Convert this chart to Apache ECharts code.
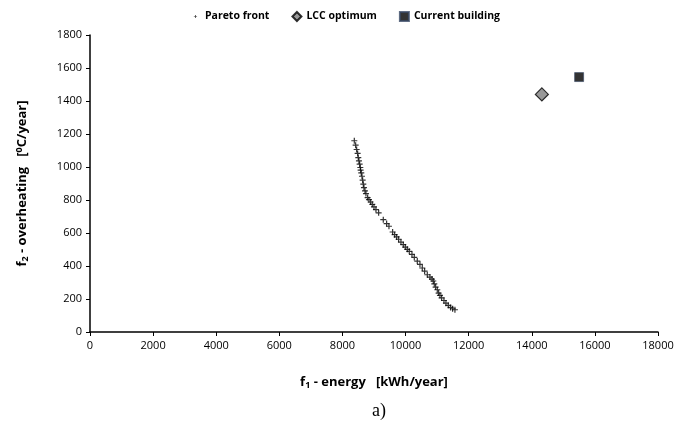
<!DOCTYPE html>
<html>
<head>
<meta charset="utf-8">
<script src="https://cdn.jsdelivr.net/npm/echarts@6/dist/echarts.min.js"></script>
<style>
  html, body { margin: 0; padding: 0; background: #fff; }
  #chart { width: 691px; height: 434px; }
</style>
</head>
<body>
<div id="chart"></div>
<script>
// Pareto front, f1 energy [kWh/year] vs f2 overheating
const paretoEnergy = [
    8376, 8418, 8450, 8481, 8502, 8523, 8545, 8566, 8576, 8597,
    8619, 8640, 8661, 8682, 8714, 8745, 8798, 8840, 8893, 8946,
    8999, 9062, 9147, 9294, 9400, 9474, 9590, 9654, 9717, 9780,
    9854, 9928, 9992, 10055, 10118, 10203, 10277, 10372, 10456, 10530,
    10604, 10689, 10773, 10837, 10879, 10911, 10953, 11006, 11048, 11090,
    11143, 11217, 11280, 11354, 11428, 11491, 11565
];
const paretoOverheating = [
    1159, 1132, 1106, 1082, 1057, 1037, 1017, 997, 981, 964,
    944, 920, 896, 875, 855, 839, 815, 802, 788, 774,
    758, 742, 722, 681, 657, 641, 606, 590, 576, 562,
    545, 529, 515, 501, 489, 471, 452, 430, 410, 388,
    369, 347, 333, 321, 309, 292, 272, 256, 236, 222,
    207, 191, 175, 161, 149, 141, 135
];
const lccOptimum = [14320, 1440];
const currentBuilding = [15500, 1545];

const xTicks = { min: 0, max: 18000, interval: 2000 };
const yTicks = { min: 0, max: 1800, interval: 200 };

const paretoData = paretoEnergy.map((e, i) => [e, paretoOverheating[i]]);

const plusPath = 'path://M2,0H3V2H5V3H3V5H2V3H0V2H2Z';
// same plus, drawn smaller inside an empty frame for the legend
const plusLegend = 'path://M0,0M10,10M4.6,3.2H5.4V4.6H6.8V5.4H5.4V6.8H4.6V5.4H3.2V4.6H4.6Z';
const labelFont = 'Open Sans';

const myChart = echarts.init(document.getElementById('chart'));

let option = {
    animation: false,
    textStyle: { fontFamily: labelFont },
    legend: {
        top: 6,
        left: 'center',
        itemWidth: 9,
        itemHeight: 9,
        itemGap: 22,
        textStyle: { fontSize: 10.5, fontWeight: 'bold', color: '#000', fontFamily: labelFont },
        data: [
            { name: 'Pareto front', icon: plusLegend, itemStyle: { color: '#000' } },
            { name: 'LCC optimum', icon: 'diamond' },
            { name: 'Current building', icon: 'rect', itemStyle: { color: '#000' } }
        ]
    },
    title: {
        text: 'a)',
        left: 374,
        top: 397,
        textAlign: 'center',
        textStyle: { fontFamily: 'Liberation Serif', fontSize: 18, fontWeight: 'normal', color: '#000' }
    },
    grid: { left: 90, right: 33, top: 35, bottom: 102 },
    xAxis: {
        type: 'value',
        min: xTicks.min,
        max: xTicks.max,
        interval: xTicks.interval,
        name: '{b|f}{sub|1}{b| - energy   [kWh/year]}',
        nameLocation: 'middle',
        nameGap: 43,
        nameTextStyle: {
            rich: {
                b: { fontSize: 13, fontWeight: 'bold', color: '#000', fontFamily: labelFont },
                sub: { fontSize: 9, fontWeight: 'bold', color: '#000', fontFamily: labelFont, verticalAlign: 'bottom', padding: [6, 0, 0, 0] }
            }
        },
        axisLine: { lineStyle: { color: '#000', width: 1.5 } },
        axisTick: { show: true, length: 4, lineStyle: { color: '#000' } },
        axisLabel: { fontSize: 11, color: '#000', margin: 8, formatter: v => String(v) },
        splitLine: { show: false }
    },
    yAxis: {
        type: 'value',
        min: yTicks.min,
        max: yTicks.max,
        interval: yTicks.interval,
        name: '{b|f}{sub|2}{b| - overheating   [}{sup|0}{b|C/year]}',
        nameLocation: 'middle',
        nameGap: 60,
        nameTextStyle: {
            rich: {
                b: { fontSize: 13, fontWeight: 'bold', color: '#000', fontFamily: labelFont },
                sub: { fontSize: 9, fontWeight: 'bold', color: '#000', fontFamily: labelFont, padding: [6, 0, 0, 0] },
                sup: { fontSize: 9, fontWeight: 'bold', color: '#000', fontFamily: labelFont, padding: [0, 0, 6, 0] }
            }
        },
        axisLine: { show: true, lineStyle: { color: '#000', width: 1.5 } },
        axisTick: { show: true, length: 4, lineStyle: { color: '#000' } },
        axisLabel: { fontSize: 11, color: '#000', margin: 8, formatter: v => String(v) },
        splitLine: { show: false }
    },
    series: [
        {
            name: 'Pareto front',
            type: 'scatter',
            symbol: plusPath,
            symbolSize: 6,
            itemStyle: { color: '#000' },
            data: paretoData
        },
        {
            name: 'LCC optimum',
            type: 'scatter',
            symbol: 'diamond',
            symbolSize: 13,
            itemStyle: { color: '#808080', borderColor: '#000', borderWidth: 1.2 },
            data: [lccOptimum]
        },
        {
            name: 'Current building',
            type: 'scatter',
            symbol: 'rect',
            symbolSize: 9,
            itemStyle: { color: '#000', borderColor: '#3a4a66', borderWidth: 0.8 },
            data: [currentBuilding]
        }
    ]
};

if (myChart) {
    myChart.setOption(option);
}
</script>
</body>
</html>
